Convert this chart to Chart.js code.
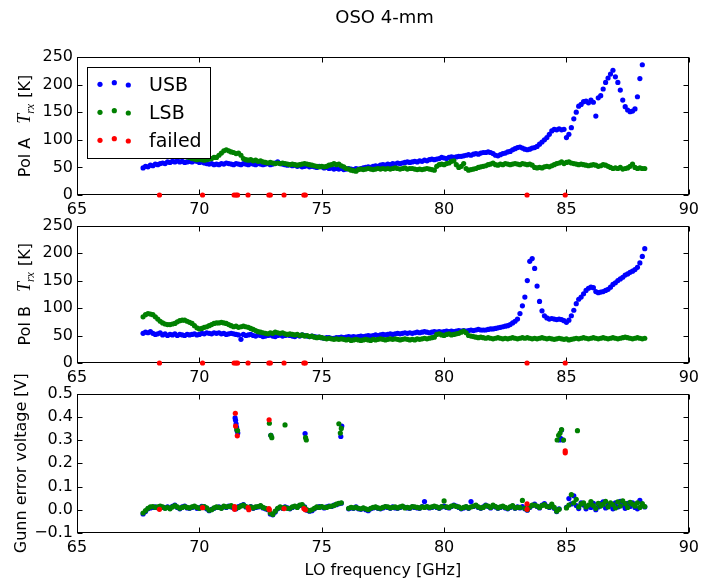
<!DOCTYPE html>
<html>
<head>
<meta charset="utf-8">
<script src="https://cdn.jsdelivr.net/npm/chart.js@4.4.1/dist/chart.umd.min.js"></script>
<style>
  body { margin: 0; background: #fff; }
  #wrap { position: relative; width: 704px; height: 584px; background: #fff; }
  canvas { position: absolute; left: 0; }
</style>
</head>
<body>
<div id="wrap">
  <canvas id="c1" width="704" height="222" style="top:0px"></canvas>
  <canvas id="c2" width="704" height="178" style="top:212px"></canvas>
  <canvas id="c3" width="704" height="224" style="top:360px"></canvas>
</div>
<script>
// LO frequency grid [GHz]
const loFreq = [
  67.7,67.8,67.9,68.0,68.1,68.2,68.3,68.4,68.5,68.6,
  68.7,68.8,68.9,69.0,69.1,69.2,69.3,69.4,69.5,69.6,
  69.7,69.8,69.9,70.0,70.1,70.2,70.3,70.4,70.5,70.6,
  70.7,70.8,70.9,71.0,71.1,71.2,71.3,71.4,71.5,71.6,
  71.7,71.8,71.9,72.0,72.1,72.2,72.3,72.4,72.5,72.6,
  72.7,72.8,72.9,73.0,73.1,73.2,73.3,73.4,73.5,73.6,
  73.7,73.8,73.9,74.0,74.1,74.2,74.3,74.4,74.5,74.6,
  74.7,74.8,74.9,75.0,75.1,75.2,75.3,75.4,75.5,75.6,
  75.7,75.8,75.9,76.0,76.1,76.2,76.3,76.4,76.5,76.6,
  76.7,76.8,76.9,77.0,77.1,77.2,77.3,77.4,77.5,77.6,
  77.7,77.8,77.9,78.0,78.1,78.2,78.3,78.4,78.5,78.6,
  78.7,78.8,78.9,79.0,79.1,79.2,79.3,79.4,79.5,79.6,
  79.7,79.8,79.9,80.0,80.1,80.2,80.3,80.4,80.5,80.6,
  80.7,80.8,80.9,81.0,81.1,81.2,81.3,81.4,81.5,81.6,
  81.7,81.8,81.9,82.0,82.1,82.2,82.3,82.4,82.5,82.6,
  82.7,82.8,82.9,83.0,83.1,83.2,83.3,83.4,83.5,83.6,
  83.7,83.8,83.9,84.0,84.1,84.2,84.3,84.4,84.5,84.6,
  84.7,84.8,84.9,85.0,85.1,85.2,85.3,85.4,85.5,85.6,
  85.7,85.8,85.9,86.0,86.1,86.2,86.3,86.4,86.5,86.6,
  86.7,86.8,86.9,87.0,87.1,87.2,87.3,87.4,87.5,87.6,
  87.7,87.8,87.9,88.0,88.1,88.2
];

// Pol A receiver temperature [K]
const usbA = [
  49,52,51,54,53,56,55,57,58,57,
  60,59,61,60,62,60,61,59,60,61,
  60,62,61,59,60,58,57,56,57,55,
  56,55,57,56,58,57,56,55,57,56,
  55,57,56,55,57,56,55,57,56,55,
  56,57,55,56,58,60,57,56,55,54,
  55,53,54,52,53,51,52,53,51,52,
  51,50,52,51,49,50,48,49,47,48,
  47,48,46,47,48,47,46,48,47,48,
  49,50,51,50,52,53,52,54,55,54,
  56,55,57,56,58,57,58,59,60,59,
  60,61,60,62,61,63,62,64,65,64,
  65,66,68,67,66,68,69,68,69,70,
  70,71,72,73,72,74,75,74,76,77,
  77,78,77,75,72,71,73,75,76,78,
  79,82,84,86,87,85,83,82,83,85,
  86,88,92,96,100,104,110,116,119,118,
  120,118,119,104,110,122,138,150,161,164,
  169,170,167,172,168,143,176,180,192,204,
  212,219,226,214,204,190,172,160,154,151,
  152,156,178,211,236,null
];
const lsbA = [
  72,74,75,76,75,74,76,75,74,73,
  74,73,72,74,73,72,71,70,69,68,
  66,65,64,65,64,63,64,65,66,68,
  68,72,76,80,82,80,78,77,75,76,
  72,66,64,63,64,62,63,61,62,60,
  59,58,59,58,57,58,57,58,57,56,
  55,56,55,54,55,56,57,56,55,54,
  53,52,51,52,51,52,54,55,57,55,
  56,53,51,48,47,45,44,43,46,47,
  46,47,48,47,46,47,48,47,48,47,
  48,47,48,49,48,47,48,49,47,48,
  48,47,46,47,46,47,48,47,46,45,
  52,55,56,55,57,58,61,62,55,50,
  52,57,48,45,46,47,48,50,51,52,
  53,55,56,58,55,54,56,55,57,56,
  55,56,57,56,55,57,56,55,56,54,
  50,49,50,49,51,52,51,53,55,57,
  58,60,57,59,60,58,57,56,55,56,
  55,54,53,54,55,54,52,53,55,54,
  52,50,48,49,48,50,47,48,49,52,
  56,50,48,49,48,48
];

// Pol B receiver temperature [K]
const usbB = [
  54,56,55,57,54,52,53,55,51,53,
  50,52,51,53,50,52,51,50,52,51,
  52,53,51,52,54,53,55,54,53,55,
  54,55,53,54,52,53,54,53,52,51,
  43,52,50,51,52,50,49,51,50,48,
  49,50,51,49,48,50,51,49,50,51,
  50,49,48,50,49,51,50,49,48,49,
  48,47,47,46,45,46,46,45,45,46,
  46,47,46,47,48,47,48,47,48,49,
  48,49,50,49,50,51,50,51,52,51,
  52,53,52,53,54,53,54,55,54,55,
  54,55,56,55,56,57,56,55,56,57,
  56,57,56,57,58,57,58,57,58,59,
  58,59,58,59,60,59,60,61,60,60,
  60,61,62,62,63,64,65,66,67,68,
  70,73,76,80,90,104,120,150,185,190,
  172,140,112,95,86,82,80,81,80,79,
  80,79,77,74,78,86,96,108,116,120,
  126,132,136,138,137,130,128,129,130,132,
  134,138,143,146,150,153,156,160,162,165,
  167,170,174,182,194,208
];
const lsbB = [
  84,88,90,89,88,84,80,76,73,71,
  70,70,71,72,75,77,78,78,76,74,
  72,68,64,62,63,65,66,68,70,72,
  73,73,74,73,72,70,68,66,67,65,
  66,67,66,65,63,61,59,57,56,55,
  54,53,55,54,56,55,54,55,53,52,
  53,52,51,52,50,51,49,50,48,49,
  47,46,47,46,45,44,45,44,43,44,
  43,44,43,42,43,41,42,43,42,41,
  42,43,42,41,43,42,43,44,43,42,
  43,44,43,44,43,42,43,44,43,42,
  43,42,44,43,44,45,44,45,46,47,
  52,53,51,50,52,53,51,52,53,54,
  56,58,55,50,49,48,47,46,47,46,
  45,46,45,44,45,46,45,44,45,44,
  45,46,45,44,45,46,45,46,45,44,
  45,44,45,46,45,44,45,44,43,44,
  45,44,43,44,42,43,44,45,44,45,
  46,45,44,45,46,45,44,45,46,45,
  44,45,46,45,44,45,46,47,46,45,
  44,45,46,45,44,45
];

// Gunn error voltage [V]
const gunnUsb = [
  -0.018,-0.008,0.004,0.008,0.01,0.012,0.009,0.014,0.01,0.008,
  0.012,0.006,0.015,0.02,0.01,0.004,0.012,0.016,0.008,0.006,
  0.01,0.014,0.006,0.008,0.015,0.012,0.004,-0.004,0.002,0.006,
  0.01,0.012,0.008,0.014,0.01,0.016,0.012,0.008,0.004,0.014,
  0.018,0.022,0.012,0.008,0.014,0.006,0.01,0.012,0.016,0.008,
  0.004,0.0,-0.018,-0.022,-0.01,0.004,0.01,0.006,0.012,0.008,
  0.004,0.01,0.014,0.012,0.018,0.02,0.012,-0.002,-0.006,-0.004,
  0.004,0.01,0.014,0.012,0.008,0.012,0.016,0.014,0.02,0.022,
  0.026,0.028,null,null,0.004,0.008,0.006,0.012,0.004,0.002,
  0.006,0.0,-0.004,0.004,0.008,0.01,0.006,0.004,0.008,0.012,
  0.01,0.006,0.012,0.008,0.006,0.01,0.014,0.01,0.008,0.006,
  0.012,0.01,0.008,0.006,0.014,0.035,0.012,0.008,0.01,0.014,
  0.01,0.006,0.012,0.016,0.01,0.008,0.014,0.02,0.016,0.01,
  0.004,0.008,0.012,0.006,0.035,0.014,0.018,0.01,0.006,0.012,
  0.02,0.014,0.008,0.016,0.012,0.006,0.01,0.014,0.008,0.004,
  0.01,0.016,0.006,0.012,0.008,0.014,0.004,-0.002,0.01,0.018,
  0.024,0.014,0.008,0.02,0.026,0.016,0.01,0.02,0.006,-0.008,
  0.004,null,null,0.01,0.048,0.025,0.06,0.018,0.005,0.03,
  0.02,0.004,0.016,0.01,0.028,0.0,0.012,0.026,0.034,0.008,
  0.022,0.016,0.004,0.03,0.012,0.036,0.02,0.006,0.028,0.014,
  0.03,0.01,0.004,0.04,0.02,0.012
];
const gunnLsb = [
  -0.014,-0.004,0.006,0.012,0.014,0.01,0.012,0.016,0.012,0.006,
  0.01,0.004,0.012,0.018,0.012,0.006,0.01,0.014,0.01,0.008,
  0.012,0.016,0.01,0.006,0.012,0.014,0.008,-0.002,0.0,0.008,
  0.012,0.01,0.006,0.016,0.012,0.014,0.018,0.01,0.006,0.01,
  0.016,0.02,0.014,0.01,0.012,0.008,0.012,0.014,0.018,0.01,
  0.006,0.002,-0.014,-0.02,-0.006,0.006,0.012,0.008,0.01,0.006,
  0.006,0.012,0.016,0.01,0.02,0.022,0.01,0.0,-0.004,0.0,
  0.006,0.012,0.01,0.014,0.01,0.01,0.014,0.016,0.018,0.024,
  0.028,0.03,null,null,0.006,0.01,0.008,0.01,0.006,0.004,
  0.008,0.004,0.0,0.006,0.01,0.012,0.008,0.006,0.01,0.014,
  0.012,0.008,0.01,0.012,0.008,0.012,0.016,0.008,0.01,0.008,
  0.014,0.012,0.01,0.008,0.012,0.01,0.014,0.01,0.012,0.016,
  0.012,0.008,0.014,0.038,0.012,0.01,0.016,0.018,0.014,0.012,
  0.006,0.01,0.014,0.008,0.012,0.016,0.02,0.012,0.008,0.01,
  0.018,0.016,0.01,0.02,0.014,0.008,0.012,0.016,0.01,0.006,
  0.012,0.018,0.008,0.01,0.01,0.04,0.006,0.0,0.012,0.02,
  0.02,0.016,0.01,0.018,0.022,0.014,0.012,0.024,0.01,-0.006,
  0.002,null,null,0.008,0.02,0.065,0.03,0.045,0.012,0.025,
  0.03,0.012,0.02,0.035,0.018,0.006,0.028,0.016,0.024,0.036,
  0.012,0.03,0.022,0.008,0.034,0.016,0.038,0.026,0.01,0.032,
  0.024,0.016,0.03,0.01,0.026,0.014
];
// tunings where the Gunn loop jumped
const gunnUsbJumpFreq = [71.46,71.48,71.5,71.52,71.54,71.57,72.92,74.32,75.78,75.82,84.72,84.76,84.8,84.86];
const gunnUsbJumpV = [0.395,0.385,0.37,0.355,0.34,0.33,0.32,0.328,0.315,0.36,0.3,0.307,0.343,0.3];
const gunnLsbJumpFreq = [71.53,71.56,72.86,72.92,72.96,73.5,74.34,74.37,75.7,75.76,75.8,84.62,84.68,84.74,84.8,84.88,85.45];
const gunnLsbJumpV = [0.345,0.34,0.372,0.32,0.31,0.365,0.31,0.3,0.37,0.33,0.35,0.3,0.32,0.33,0.345,0.3,0.34];

// failed tunings
const failedFreq = [68.37,70.13,71.42,71.5,71.56,71.99,72.84,72.9,73.46,74.27,74.33,83.39,84.95];
const failedTrx = [0,0,0,0,0,0,0,0,0,0,0,0,0];
const failedGunnFreq = [68.37,70.13,71.44,71.44,71.47,71.48,71.55,71.99,72.02,72.84,72.86,72.85,73.46,74.27,74.33,83.39,83.39,84.95,84.95];
const failedGunnV = [0.002,0.009,0.014,0.002,0.415,0.36,0.318,0.009,0.0,0.005,0.0,0.387,0.005,0.005,0.0,0.025,0.002,0.253,0.245];

const xTicks = [65, 70, 75, 80, 85, 90];
const trxTicks = [0, 50, 100, 150, 200, 250];
const gunnTicks = [-0.1, 0.0, 0.1, 0.2, 0.3, 0.4, 0.5];

const FONT = 'DejaVu Sans';
const BLUE = '#0000ff', GREEN = '#008000', RED = '#ff0000';
const DOT = 2.6;

function pts(xs, ys) {
  const out = [];
  xs.forEach((x, i) => { if (ys[i] !== null) out.push({x: x, y: ys[i]}); });
  return out;
}

function ds(label, data, color, order) {
  return {
    label: label, data: data, order: order, clip: false,
    backgroundColor: color, borderColor: color,
    pointRadius: DOT, pointBorderWidth: 0, pointHoverRadius: DOT,
    showLine: false
  };
}

// box with inward ticks on all four sides (drawn under the markers)
const frameTicks = {
  id: 'frameTicks',
  beforeDatasetsDraw(chart) {
    const {ctx, chartArea: a, scales} = chart;
    const L = Math.round(a.left) + 0.5, R = Math.round(a.right) - 0.5;
    const T = Math.round(a.top) + 0.5, B = Math.round(a.bottom) - 0.5;
    ctx.save();
    ctx.strokeStyle = '#000';
    ctx.lineWidth = 1;
    ctx.beginPath();
    scales.x.ticks.forEach(t => {
      const px = Math.round(scales.x.getPixelForValue(t.value)) + 0.5;
      ctx.moveTo(px, B); ctx.lineTo(px, B - 5);
      ctx.moveTo(px, T); ctx.lineTo(px, T + 5);
    });
    scales.y.ticks.forEach(t => {
      const py = Math.round(scales.y.getPixelForValue(t.value)) + 0.5;
      ctx.moveTo(L, py); ctx.lineTo(L + 5, py);
      ctx.moveTo(R, py); ctx.lineTo(R - 5, py);
    });
    ctx.stroke();
    ctx.strokeRect(L, T, R - L, B - T);
    ctx.restore();
  }
};

// rotated y label made of several font runs
const yLabel = {
  id: 'yLabel',
  afterDraw(chart, args, opts) {
    if (!opts || !opts.parts) return;
    const {ctx, chartArea: a} = chart;
    const cy = (a.top + a.bottom) / 2;
    let total = 0;
    opts.parts.forEach(p => {
      if (p.text) { ctx.font = p.font; p.w = ctx.measureText(p.text).width; } else { p.w = p.gap; }
      total += p.w;
    });
    ctx.save();
    ctx.translate(opts.x, cy);
    ctx.rotate(-Math.PI / 2);
    ctx.fillStyle = '#000';
    ctx.textBaseline = 'alphabetic';
    ctx.textAlign = 'left';
    let x = -total / 2;
    opts.parts.forEach(p => {
      if (p.text) { ctx.font = p.font; ctx.fillText(p.text, x, p.dy || 0); }
      x += p.w;
    });
    ctx.restore();
  }
};

// suptitle + boxed legend with three sample dots per entry
const topDecor = {
  id: 'topDecor',
  afterDraw(chart) {
    const ctx = chart.ctx;
    ctx.save();
    ctx.fillStyle = '#000';
    ctx.font = '18px ' + FONT;
    ctx.textAlign = 'center';
    ctx.textBaseline = 'alphabetic';
    ctx.fillText('OSO 4-mm', 384.5, 23);

    ctx.fillStyle = '#fff';
    ctx.fillRect(87.5, 67.5, 123, 91);
    ctx.strokeStyle = '#000';
    ctx.lineWidth = 1;
    ctx.strokeRect(87.5, 67.5, 123, 91);
    const entries = chart.data.datasets;
    const dotX = [100, 114.3, 128.3], dotDy = [-6.7, -8.3, -6];
    ctx.textAlign = 'left';
    ctx.font = '19px ' + FONT;
    entries.forEach((d, i) => {
      const base = 91 + i * 28;
      ctx.fillStyle = d.backgroundColor;
      dotX.forEach((dx, k) => {
        ctx.beginPath();
        ctx.arc(dx, base + dotDy[k], DOT, 0, Math.PI * 2);
        ctx.fill();
      });
      ctx.fillStyle = '#000';
      ctx.fillText(d.label, 149, base);
    });
    ctx.restore();
  }
};

function trxLabel(pol) {
  return {
    x: 30,
    parts: [
      {text: pol, font: '16px ' + FONT},
      {gap: 14},
      {text: 'T', font: 'italic 18px "Liberation Serif"'},
      {text: 'rx', font: 'italic 12px "Liberation Serif"', dy: 4},
      {gap: 6},
      {text: '[K]', font: '16px ' + FONT}
    ]
  };
}

function makeChart(id, cfg) {
  const plugins = [frameTicks, yLabel].concat(cfg.extra || []);
  return new Chart(document.getElementById(id), {
    type: 'scatter',
    data: {datasets: cfg.datasets},
    options: {
      responsive: false,
      animation: false,
      devicePixelRatio: 1,
      events: [],
      layout: {padding: {left: 0, right: 12, top: cfg.top, bottom: 0}},
      plugins: {
        legend: {display: false},
        tooltip: {enabled: false},
        yLabel: cfg.ylabel
      },
      scales: {
        x: {
          type: 'linear', min: 65, max: 90,
          afterBuildTicks: s => { s.ticks = xTicks.map(v => ({value: v})); },
          ticks: {color: '#000', font: {family: FONT, size: 16}, padding: 5, maxRotation: 0},
          grid: {display: false, drawTicks: false},
          border: {display: false},
          title: cfg.xtitle ? {display: true, text: cfg.xtitle, color: '#000', font: {family: FONT, size: 16}, padding: {top: 0, bottom: 4}} : {display: false},
          afterFit: s => { s.height = cfg.xh; }
        },
        y: {
          type: 'linear', min: cfg.ymin, max: cfg.ymax,
          afterBuildTicks: s => { s.ticks = cfg.yticks.map(v => ({value: v})); },
          ticks: {color: '#000', font: {family: FONT, size: 16}, padding: 4, callback: cfg.yfmt},
          grid: {display: false, drawTicks: false},
          border: {display: false},
          afterFit: s => { s.width = 77; }
        }
      }
    },
    plugins: plugins
  });
}

const fmtInt = v => String(v);
const fmtGunn = v => (v < -1e-9 ? '\u2212' : '') + Math.abs(v).toFixed(1);

makeChart('c1', {
  top: 57, xh: 27, ymin: 0, ymax: 250, yticks: trxTicks, yfmt: fmtInt,
  ylabel: trxLabel('Pol A'),
  extra: [topDecor],
  datasets: [
    ds('USB', pts(loFreq, usbA), BLUE, 2),
    ds('LSB', pts(loFreq, lsbA), GREEN, 1),
    ds('failed', pts(failedFreq, failedTrx), RED, 0)
  ]
});

makeChart('c2', {
  top: 13, xh: 27, ymin: 0, ymax: 250, yticks: trxTicks, yfmt: fmtInt,
  ylabel: trxLabel('Pol B'),
  datasets: [
    ds('USB', pts(loFreq, usbB), BLUE, 2),
    ds('LSB', pts(loFreq, lsbB), GREEN, 1),
    ds('failed', pts(failedFreq, failedTrx), RED, 0)
  ]
});

makeChart('c3', {
  top: 33.5, xh: 51, ymin: -0.1, ymax: 0.5, yticks: gunnTicks, yfmt: fmtGunn,
  xtitle: 'LO frequency [GHz]',
  ylabel: {x: 26, parts: [{text: 'Gunn error voltage [V]', font: '16px ' + FONT}]},
  datasets: [
    ds('USB', pts(loFreq, gunnUsb).concat(pts(gunnUsbJumpFreq, gunnUsbJumpV)), BLUE, 2),
    ds('LSB', pts(loFreq, gunnLsb).concat(pts(gunnLsbJumpFreq, gunnLsbJumpV)), GREEN, 1),
    ds('failed', pts(failedGunnFreq, failedGunnV), RED, 0)
  ]
});
</script>
</body>
</html>
